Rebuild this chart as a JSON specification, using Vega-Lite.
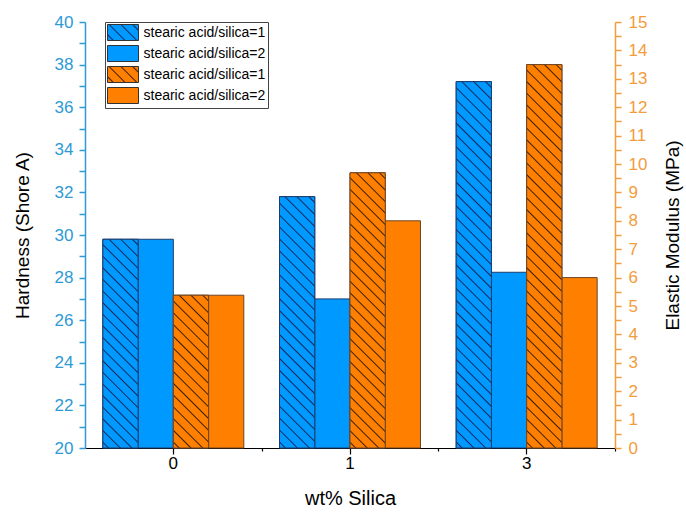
{
  "$schema": "https://vega.github.io/schema/vega-lite/v6.json",
  "width": 530,
  "height": 426,
  "autosize": {"type": "none"},
  "padding": {"left": 85, "top": 22, "right": 71, "bottom": 65},
  "background": "#ffffff",
  "config": {
    "view": {"stroke": null},
    "font": "Liberation Sans",
    "axis": {"labelFont": "Liberation Sans", "titleFont": "Liberation Sans", "grid": false}
  },
  "data": {
    "values": [
      {"silica": "0", "series": "H1", "q": "H", "value": 29.8},
      {"silica": "1", "series": "H1", "q": "H", "value": 31.8},
      {"silica": "3", "series": "H1", "q": "H", "value": 37.2},
      {"silica": "0", "series": "H2", "q": "H", "value": 29.8},
      {"silica": "1", "series": "H2", "q": "H", "value": 27.0},
      {"silica": "3", "series": "H2", "q": "H", "value": 28.25},
      {"silica": "0", "series": "M1", "q": "M", "value": 5.38},
      {"silica": "1", "series": "M1", "q": "M", "value": 9.69},
      {"silica": "3", "series": "M1", "q": "M", "value": 13.5},
      {"silica": "0", "series": "M2", "q": "M", "value": 5.38},
      {"silica": "1", "series": "M2", "q": "M", "value": 8.0},
      {"silica": "3", "series": "M2", "q": "M", "value": 6.0}
    ]
  },
  "layer": [
    {
      "transform": [{"filter": "datum.q === 'H'"}],
      "encoding": {
        "x": {
          "field": "silica", "type": "nominal",
          "scale": {"domain": ["0", "1", "3"], "paddingInner": 0.202, "paddingOuter": 0.101},
          "axis": {
            "orient": "bottom", "title": "wt% Silica", "labelAngle": 0,
            "domainColor": "#000000", "domainWidth": 1.2, "tickColor": "#000000", "tickWidth": 1.2, "tickSize": 6,
            "labelColor": "#000000", "labelFontSize": 17, "labelPadding": 1,
            "titleFontSize": 20, "titleFontWeight": "normal", "titleColor": "#000000", "titlePadding": 17
          }
        },
        "xOffset": {"field": "series", "type": "nominal", "scale": {"domain": ["H1", "H2", "M1", "M2"]}},
        "y": {
          "field": "value", "type": "quantitative",
          "scale": {"domain": [20, 40], "zero": false},
          "axis": {
            "orient": "left", "title": "Hardness (Shore A)",
            "values": [20, 21, 22, 23, 24, 25, 26, 27, 28, 29, 30, 31, 32, 33, 34, 35, 36, 37, 38, 39, 40],
            "labelExpr": "datum.value % 2 === 0 ? datum.label : ''",
            "labelOverlap": false,
            "domainColor": "#2e9ad6", "domainWidth": 1.5,
            "tickColor": "#2e9ad6", "tickWidth": 1.5, "tickSize": 6,
            "labelColor": "#2e9ad6", "labelFontSize": 17, "labelPadding": 6,
            "titleColor": "#000000", "titleFontSize": 19, "titleFontWeight": "normal", "titlePadding": 22,
            "encode": {"ticks": {"x2": {"condition": {"test": "datum.value % 2 !== 0", "value": -3}, "value": -6}}}
          }
        },
        "y2": {"datum": 20}
      },
      "layer": [
        {
          "mark": {"type": "bar", "stroke": "#1e3c6e", "strokeWidth": 1},
          "encoding": {
            "color": {
              "field": "series", "type": "nominal",
              "scale": {
                "domain": ["H1", "H2", "M1", "M2"],
                "range": [
                  {"expr": "{gradient: 'linear', x1: 0, y1: 1, x2: 1.1972, y2: 0.3821, stops: [{offset: 0.095, color: '#0099ff'}, {offset: 0.125, color: '#14275a'}, {offset: 0.155, color: '#0099ff'}, {offset: 0.345, color: '#0099ff'}, {offset: 0.375, color: '#14275a'}, {offset: 0.405, color: '#0099ff'}, {offset: 0.595, color: '#0099ff'}, {offset: 0.625, color: '#14275a'}, {offset: 0.655, color: '#0099ff'}, {offset: 0.845, color: '#0099ff'}, {offset: 0.875, color: '#14275a'}, {offset: 0.905, color: '#0099ff'}]}"},
                  "#0099ff",
                  {"expr": "{gradient: 'linear', x1: 0, y1: 1, x2: 1.1972, y2: 0.3821, stops: [{offset: 0.095, color: '#ff8000'}, {offset: 0.125, color: '#3a1e05'}, {offset: 0.155, color: '#ff8000'}, {offset: 0.345, color: '#ff8000'}, {offset: 0.375, color: '#3a1e05'}, {offset: 0.405, color: '#ff8000'}, {offset: 0.595, color: '#ff8000'}, {offset: 0.625, color: '#3a1e05'}, {offset: 0.655, color: '#ff8000'}, {offset: 0.845, color: '#ff8000'}, {offset: 0.875, color: '#3a1e05'}, {offset: 0.905, color: '#ff8000'}]}"},
                  "#ff8000"
                ]
              },
              "legend": {
                "title": null, "orient": "none", "legendX": 20, "legendY": 0, "direction": "vertical",
                "labelExpr": "datum.value === 'H1' || datum.value === 'M1' ? 'stearic acid/silica=1' : 'stearic acid/silica=2'",
                "symbolType": "M-1,-1H2.875V1H-1Z", "symbolSize": 256, "symbolStrokeWidth": 1, "symbolStrokeColor": "#333333",
                "labelFontSize": 14, "labelFont": "Liberation Sans", "labelColor": "#000000", "labelOffset": 19.5,
                "strokeColor": "#444444", "fillColor": "#ffffff", "padding": 2, "rowPadding": 0
              }
            }
          }
        },
        {
          "transform": [{"filter": "datum.series === 'H1' && datum.silica === '0'"}],
          "mark": {"type": "bar", "stroke": "#1e3c6e", "strokeWidth": 1, "fill": {"gradient": "linear", "x1": 0, "y1": 1, "x2": 0.1919, "y2": -0.1365, "stops": [
            {"offset": 0.0181, "color": "#0099ff"}, {"offset": 0.0238, "color": "#14275a"}, {"offset": 0.0295, "color": "#0099ff"},
            {"offset": 0.0657, "color": "#0099ff"}, {"offset": 0.0714, "color": "#14275a"}, {"offset": 0.0771, "color": "#0099ff"},
            {"offset": 0.1133, "color": "#0099ff"}, {"offset": 0.1190, "color": "#14275a"}, {"offset": 0.1247, "color": "#0099ff"},
            {"offset": 0.1610, "color": "#0099ff"}, {"offset": 0.1667, "color": "#14275a"}, {"offset": 0.1724, "color": "#0099ff"},
            {"offset": 0.2086, "color": "#0099ff"}, {"offset": 0.2143, "color": "#14275a"}, {"offset": 0.2200, "color": "#0099ff"},
            {"offset": 0.2562, "color": "#0099ff"}, {"offset": 0.2619, "color": "#14275a"}, {"offset": 0.2676, "color": "#0099ff"},
            {"offset": 0.3038, "color": "#0099ff"}, {"offset": 0.3095, "color": "#14275a"}, {"offset": 0.3152, "color": "#0099ff"},
            {"offset": 0.3514, "color": "#0099ff"}, {"offset": 0.3571, "color": "#14275a"}, {"offset": 0.3628, "color": "#0099ff"},
            {"offset": 0.3991, "color": "#0099ff"}, {"offset": 0.4048, "color": "#14275a"}, {"offset": 0.4105, "color": "#0099ff"},
            {"offset": 0.4467, "color": "#0099ff"}, {"offset": 0.4524, "color": "#14275a"}, {"offset": 0.4581, "color": "#0099ff"},
            {"offset": 0.4943, "color": "#0099ff"}, {"offset": 0.5000, "color": "#14275a"}, {"offset": 0.5057, "color": "#0099ff"},
            {"offset": 0.5419, "color": "#0099ff"}, {"offset": 0.5476, "color": "#14275a"}, {"offset": 0.5533, "color": "#0099ff"},
            {"offset": 0.5895, "color": "#0099ff"}, {"offset": 0.5952, "color": "#14275a"}, {"offset": 0.6009, "color": "#0099ff"},
            {"offset": 0.6372, "color": "#0099ff"}, {"offset": 0.6429, "color": "#14275a"}, {"offset": 0.6486, "color": "#0099ff"},
            {"offset": 0.6848, "color": "#0099ff"}, {"offset": 0.6905, "color": "#14275a"}, {"offset": 0.6962, "color": "#0099ff"},
            {"offset": 0.7324, "color": "#0099ff"}, {"offset": 0.7381, "color": "#14275a"}, {"offset": 0.7438, "color": "#0099ff"},
            {"offset": 0.7800, "color": "#0099ff"}, {"offset": 0.7857, "color": "#14275a"}, {"offset": 0.7914, "color": "#0099ff"},
            {"offset": 0.8276, "color": "#0099ff"}, {"offset": 0.8333, "color": "#14275a"}, {"offset": 0.8390, "color": "#0099ff"},
            {"offset": 0.8753, "color": "#0099ff"}, {"offset": 0.8810, "color": "#14275a"}, {"offset": 0.8867, "color": "#0099ff"},
            {"offset": 0.9229, "color": "#0099ff"}, {"offset": 0.9286, "color": "#14275a"}, {"offset": 0.9343, "color": "#0099ff"},
            {"offset": 0.9705, "color": "#0099ff"}, {"offset": 0.9762, "color": "#14275a"}, {"offset": 0.9819, "color": "#0099ff"}]}}
        },
        {
          "transform": [{"filter": "datum.series === 'H1' && datum.silica === '1'"}],
          "mark": {"type": "bar", "stroke": "#1e3c6e", "strokeWidth": 1, "fill": {"gradient": "linear", "x1": 0, "y1": 1, "x2": 0.1568, "y2": -0.1183, "stops": [
            {"offset": 0.0159, "color": "#0099ff"}, {"offset": 0.0208, "color": "#14275a"}, {"offset": 0.0257, "color": "#0099ff"},
            {"offset": 0.0576, "color": "#0099ff"}, {"offset": 0.0625, "color": "#14275a"}, {"offset": 0.0674, "color": "#0099ff"},
            {"offset": 0.0993, "color": "#0099ff"}, {"offset": 0.1042, "color": "#14275a"}, {"offset": 0.1091, "color": "#0099ff"},
            {"offset": 0.1409, "color": "#0099ff"}, {"offset": 0.1458, "color": "#14275a"}, {"offset": 0.1507, "color": "#0099ff"},
            {"offset": 0.1826, "color": "#0099ff"}, {"offset": 0.1875, "color": "#14275a"}, {"offset": 0.1924, "color": "#0099ff"},
            {"offset": 0.2243, "color": "#0099ff"}, {"offset": 0.2292, "color": "#14275a"}, {"offset": 0.2341, "color": "#0099ff"},
            {"offset": 0.2659, "color": "#0099ff"}, {"offset": 0.2708, "color": "#14275a"}, {"offset": 0.2757, "color": "#0099ff"},
            {"offset": 0.3076, "color": "#0099ff"}, {"offset": 0.3125, "color": "#14275a"}, {"offset": 0.3174, "color": "#0099ff"},
            {"offset": 0.3493, "color": "#0099ff"}, {"offset": 0.3542, "color": "#14275a"}, {"offset": 0.3591, "color": "#0099ff"},
            {"offset": 0.3909, "color": "#0099ff"}, {"offset": 0.3958, "color": "#14275a"}, {"offset": 0.4007, "color": "#0099ff"},
            {"offset": 0.4326, "color": "#0099ff"}, {"offset": 0.4375, "color": "#14275a"}, {"offset": 0.4424, "color": "#0099ff"},
            {"offset": 0.4743, "color": "#0099ff"}, {"offset": 0.4792, "color": "#14275a"}, {"offset": 0.4841, "color": "#0099ff"},
            {"offset": 0.5159, "color": "#0099ff"}, {"offset": 0.5208, "color": "#14275a"}, {"offset": 0.5257, "color": "#0099ff"},
            {"offset": 0.5576, "color": "#0099ff"}, {"offset": 0.5625, "color": "#14275a"}, {"offset": 0.5674, "color": "#0099ff"},
            {"offset": 0.5993, "color": "#0099ff"}, {"offset": 0.6042, "color": "#14275a"}, {"offset": 0.6091, "color": "#0099ff"},
            {"offset": 0.6409, "color": "#0099ff"}, {"offset": 0.6458, "color": "#14275a"}, {"offset": 0.6507, "color": "#0099ff"},
            {"offset": 0.6826, "color": "#0099ff"}, {"offset": 0.6875, "color": "#14275a"}, {"offset": 0.6924, "color": "#0099ff"},
            {"offset": 0.7243, "color": "#0099ff"}, {"offset": 0.7292, "color": "#14275a"}, {"offset": 0.7341, "color": "#0099ff"},
            {"offset": 0.7659, "color": "#0099ff"}, {"offset": 0.7708, "color": "#14275a"}, {"offset": 0.7757, "color": "#0099ff"},
            {"offset": 0.8076, "color": "#0099ff"}, {"offset": 0.8125, "color": "#14275a"}, {"offset": 0.8174, "color": "#0099ff"},
            {"offset": 0.8493, "color": "#0099ff"}, {"offset": 0.8542, "color": "#14275a"}, {"offset": 0.8591, "color": "#0099ff"},
            {"offset": 0.8909, "color": "#0099ff"}, {"offset": 0.8958, "color": "#14275a"}, {"offset": 0.9007, "color": "#0099ff"},
            {"offset": 0.9326, "color": "#0099ff"}, {"offset": 0.9375, "color": "#14275a"}, {"offset": 0.9424, "color": "#0099ff"},
            {"offset": 0.9743, "color": "#0099ff"}, {"offset": 0.9792, "color": "#14275a"}, {"offset": 0.9841, "color": "#0099ff"}]}}
        },
        {
          "transform": [{"filter": "datum.series === 'H1' && datum.silica === '3'"}],
          "mark": {"type": "bar", "stroke": "#1e3c6e", "strokeWidth": 1, "fill": {"gradient": "linear", "x1": 0, "y1": 1, "x2": 0.1045, "y2": -0.0862, "stops": [
            {"offset": 0.0112, "color": "#0099ff"}, {"offset": 0.0147, "color": "#14275a"}, {"offset": 0.0182, "color": "#0099ff"},
            {"offset": 0.0406, "color": "#0099ff"}, {"offset": 0.0441, "color": "#14275a"}, {"offset": 0.0476, "color": "#0099ff"},
            {"offset": 0.0700, "color": "#0099ff"}, {"offset": 0.0735, "color": "#14275a"}, {"offset": 0.0770, "color": "#0099ff"},
            {"offset": 0.0994, "color": "#0099ff"}, {"offset": 0.1029, "color": "#14275a"}, {"offset": 0.1064, "color": "#0099ff"},
            {"offset": 0.1289, "color": "#0099ff"}, {"offset": 0.1324, "color": "#14275a"}, {"offset": 0.1359, "color": "#0099ff"},
            {"offset": 0.1583, "color": "#0099ff"}, {"offset": 0.1618, "color": "#14275a"}, {"offset": 0.1653, "color": "#0099ff"},
            {"offset": 0.1877, "color": "#0099ff"}, {"offset": 0.1912, "color": "#14275a"}, {"offset": 0.1947, "color": "#0099ff"},
            {"offset": 0.2171, "color": "#0099ff"}, {"offset": 0.2206, "color": "#14275a"}, {"offset": 0.2241, "color": "#0099ff"},
            {"offset": 0.2465, "color": "#0099ff"}, {"offset": 0.2500, "color": "#14275a"}, {"offset": 0.2535, "color": "#0099ff"},
            {"offset": 0.2759, "color": "#0099ff"}, {"offset": 0.2794, "color": "#14275a"}, {"offset": 0.2829, "color": "#0099ff"},
            {"offset": 0.3053, "color": "#0099ff"}, {"offset": 0.3088, "color": "#14275a"}, {"offset": 0.3123, "color": "#0099ff"},
            {"offset": 0.3347, "color": "#0099ff"}, {"offset": 0.3382, "color": "#14275a"}, {"offset": 0.3417, "color": "#0099ff"},
            {"offset": 0.3641, "color": "#0099ff"}, {"offset": 0.3676, "color": "#14275a"}, {"offset": 0.3711, "color": "#0099ff"},
            {"offset": 0.3936, "color": "#0099ff"}, {"offset": 0.3971, "color": "#14275a"}, {"offset": 0.4006, "color": "#0099ff"},
            {"offset": 0.4230, "color": "#0099ff"}, {"offset": 0.4265, "color": "#14275a"}, {"offset": 0.4300, "color": "#0099ff"},
            {"offset": 0.4524, "color": "#0099ff"}, {"offset": 0.4559, "color": "#14275a"}, {"offset": 0.4594, "color": "#0099ff"},
            {"offset": 0.4818, "color": "#0099ff"}, {"offset": 0.4853, "color": "#14275a"}, {"offset": 0.4888, "color": "#0099ff"},
            {"offset": 0.5112, "color": "#0099ff"}, {"offset": 0.5147, "color": "#14275a"}, {"offset": 0.5182, "color": "#0099ff"},
            {"offset": 0.5406, "color": "#0099ff"}, {"offset": 0.5441, "color": "#14275a"}, {"offset": 0.5476, "color": "#0099ff"},
            {"offset": 0.5700, "color": "#0099ff"}, {"offset": 0.5735, "color": "#14275a"}, {"offset": 0.5770, "color": "#0099ff"},
            {"offset": 0.5994, "color": "#0099ff"}, {"offset": 0.6029, "color": "#14275a"}, {"offset": 0.6064, "color": "#0099ff"},
            {"offset": 0.6289, "color": "#0099ff"}, {"offset": 0.6324, "color": "#14275a"}, {"offset": 0.6359, "color": "#0099ff"},
            {"offset": 0.6583, "color": "#0099ff"}, {"offset": 0.6618, "color": "#14275a"}, {"offset": 0.6653, "color": "#0099ff"},
            {"offset": 0.6877, "color": "#0099ff"}, {"offset": 0.6912, "color": "#14275a"}, {"offset": 0.6947, "color": "#0099ff"},
            {"offset": 0.7171, "color": "#0099ff"}, {"offset": 0.7206, "color": "#14275a"}, {"offset": 0.7241, "color": "#0099ff"},
            {"offset": 0.7465, "color": "#0099ff"}, {"offset": 0.7500, "color": "#14275a"}, {"offset": 0.7535, "color": "#0099ff"},
            {"offset": 0.7759, "color": "#0099ff"}, {"offset": 0.7794, "color": "#14275a"}, {"offset": 0.7829, "color": "#0099ff"},
            {"offset": 0.8053, "color": "#0099ff"}, {"offset": 0.8088, "color": "#14275a"}, {"offset": 0.8123, "color": "#0099ff"},
            {"offset": 0.8347, "color": "#0099ff"}, {"offset": 0.8382, "color": "#14275a"}, {"offset": 0.8417, "color": "#0099ff"},
            {"offset": 0.8641, "color": "#0099ff"}, {"offset": 0.8676, "color": "#14275a"}, {"offset": 0.8711, "color": "#0099ff"},
            {"offset": 0.8936, "color": "#0099ff"}, {"offset": 0.8971, "color": "#14275a"}, {"offset": 0.9006, "color": "#0099ff"},
            {"offset": 0.9230, "color": "#0099ff"}, {"offset": 0.9265, "color": "#14275a"}, {"offset": 0.9300, "color": "#0099ff"},
            {"offset": 0.9524, "color": "#0099ff"}, {"offset": 0.9559, "color": "#14275a"}, {"offset": 0.9594, "color": "#0099ff"},
            {"offset": 0.9818, "color": "#0099ff"}, {"offset": 0.9853, "color": "#14275a"}, {"offset": 0.9888, "color": "#0099ff"}]}}
        }
      ]
    },
    {
      "transform": [{"filter": "datum.q === 'M'"}],
      "encoding": {
        "x": {
          "field": "silica", "type": "nominal",
          "scale": {"domain": ["0", "1", "3"], "paddingInner": 0.202, "paddingOuter": 0.101},
          "axis": {"orient": "bottom", "title": null, "labels": false, "domain": false, "tickOffset": 88.33, "tickSize": 3, "tickColor": "#000000", "tickWidth": 1.2}
        },
        "xOffset": {"field": "series", "type": "nominal", "scale": {"domain": ["H1", "H2", "M1", "M2"]}},
        "y": {
          "field": "value", "type": "quantitative",
          "scale": {"domain": [0, 15]},
          "axis": {
            "orient": "right", "title": "Elastic Modulus (MPa)",
            "values": [0, 0.5, 1, 1.5, 2, 2.5, 3, 3.5, 4, 4.5, 5, 5.5, 6, 6.5, 7, 7.5, 8, 8.5, 9, 9.5, 10, 10.5, 11, 11.5, 12, 12.5, 13, 13.5, 14, 14.5, 15],
            "labelExpr": "datum.value % 1 === 0 ? format(datum.value, 'd') : ''",
            "labelOverlap": false,
            "domainColor": "#f39c3c", "domainWidth": 1.5,
            "tickColor": "#f39c3c", "tickWidth": 1.5, "tickSize": 6,
            "labelColor": "#f39c3c", "labelFontSize": 17, "labelPadding": 7,
            "titleColor": "#000000", "titleFontSize": 19, "titleFontWeight": "normal", "titlePadding": 17,
            "titleAngle": 270, "titleBaseline": "top",
            "encode": {"ticks": {"x2": {"condition": {"test": "datum.value % 1 !== 0", "value": 3}, "value": 6}}}
          }
        }
      },
      "layer": [
        {
          "mark": {"type": "bar", "fill": "#ff8000", "stroke": "#6e4424", "strokeWidth": 1}
        },
        {
          "transform": [{"filter": "datum.series === 'M1' && datum.silica === '0'"}],
          "mark": {"type": "bar", "stroke": "#6e4424", "strokeWidth": 1, "fill": {"gradient": "linear", "x1": 0, "y1": 1, "x2": 0.2696, "y2": -0.1685, "stops": [
            {"offset": 0.0239, "color": "#ff8000"}, {"offset": 0.0313, "color": "#3a1e05"}, {"offset": 0.0387, "color": "#ff8000"},
            {"offset": 0.0864, "color": "#ff8000"}, {"offset": 0.0938, "color": "#3a1e05"}, {"offset": 0.1012, "color": "#ff8000"},
            {"offset": 0.1489, "color": "#ff8000"}, {"offset": 0.1563, "color": "#3a1e05"}, {"offset": 0.1637, "color": "#ff8000"},
            {"offset": 0.2114, "color": "#ff8000"}, {"offset": 0.2188, "color": "#3a1e05"}, {"offset": 0.2262, "color": "#ff8000"},
            {"offset": 0.2739, "color": "#ff8000"}, {"offset": 0.2813, "color": "#3a1e05"}, {"offset": 0.2887, "color": "#ff8000"},
            {"offset": 0.3364, "color": "#ff8000"}, {"offset": 0.3438, "color": "#3a1e05"}, {"offset": 0.3512, "color": "#ff8000"},
            {"offset": 0.3989, "color": "#ff8000"}, {"offset": 0.4063, "color": "#3a1e05"}, {"offset": 0.4137, "color": "#ff8000"},
            {"offset": 0.4614, "color": "#ff8000"}, {"offset": 0.4688, "color": "#3a1e05"}, {"offset": 0.4762, "color": "#ff8000"},
            {"offset": 0.5239, "color": "#ff8000"}, {"offset": 0.5313, "color": "#3a1e05"}, {"offset": 0.5387, "color": "#ff8000"},
            {"offset": 0.5864, "color": "#ff8000"}, {"offset": 0.5938, "color": "#3a1e05"}, {"offset": 0.6012, "color": "#ff8000"},
            {"offset": 0.6489, "color": "#ff8000"}, {"offset": 0.6563, "color": "#3a1e05"}, {"offset": 0.6637, "color": "#ff8000"},
            {"offset": 0.7114, "color": "#ff8000"}, {"offset": 0.7188, "color": "#3a1e05"}, {"offset": 0.7262, "color": "#ff8000"},
            {"offset": 0.7739, "color": "#ff8000"}, {"offset": 0.7813, "color": "#3a1e05"}, {"offset": 0.7887, "color": "#ff8000"},
            {"offset": 0.8364, "color": "#ff8000"}, {"offset": 0.8438, "color": "#3a1e05"}, {"offset": 0.8512, "color": "#ff8000"},
            {"offset": 0.8989, "color": "#ff8000"}, {"offset": 0.9063, "color": "#3a1e05"}, {"offset": 0.9137, "color": "#ff8000"},
            {"offset": 0.9614, "color": "#ff8000"}, {"offset": 0.9688, "color": "#3a1e05"}, {"offset": 0.9762, "color": "#ff8000"}]}}
        },
        {
          "transform": [{"filter": "datum.series === 'M1' && datum.silica === '1'"}],
          "mark": {"type": "bar", "stroke": "#6e4424", "strokeWidth": 1, "fill": {"gradient": "linear", "x1": 0, "y1": 1, "x2": 0.1422, "y2": -0.1099, "stops": [
            {"offset": 0.0140, "color": "#ff8000"}, {"offset": 0.0185, "color": "#3a1e05"}, {"offset": 0.0230, "color": "#ff8000"},
            {"offset": 0.0511, "color": "#ff8000"}, {"offset": 0.0556, "color": "#3a1e05"}, {"offset": 0.0601, "color": "#ff8000"},
            {"offset": 0.0881, "color": "#ff8000"}, {"offset": 0.0926, "color": "#3a1e05"}, {"offset": 0.0971, "color": "#ff8000"},
            {"offset": 0.1251, "color": "#ff8000"}, {"offset": 0.1296, "color": "#3a1e05"}, {"offset": 0.1341, "color": "#ff8000"},
            {"offset": 0.1622, "color": "#ff8000"}, {"offset": 0.1667, "color": "#3a1e05"}, {"offset": 0.1712, "color": "#ff8000"},
            {"offset": 0.1992, "color": "#ff8000"}, {"offset": 0.2037, "color": "#3a1e05"}, {"offset": 0.2082, "color": "#ff8000"},
            {"offset": 0.2362, "color": "#ff8000"}, {"offset": 0.2407, "color": "#3a1e05"}, {"offset": 0.2452, "color": "#ff8000"},
            {"offset": 0.2733, "color": "#ff8000"}, {"offset": 0.2778, "color": "#3a1e05"}, {"offset": 0.2823, "color": "#ff8000"},
            {"offset": 0.3103, "color": "#ff8000"}, {"offset": 0.3148, "color": "#3a1e05"}, {"offset": 0.3193, "color": "#ff8000"},
            {"offset": 0.3474, "color": "#ff8000"}, {"offset": 0.3519, "color": "#3a1e05"}, {"offset": 0.3564, "color": "#ff8000"},
            {"offset": 0.3844, "color": "#ff8000"}, {"offset": 0.3889, "color": "#3a1e05"}, {"offset": 0.3934, "color": "#ff8000"},
            {"offset": 0.4214, "color": "#ff8000"}, {"offset": 0.4259, "color": "#3a1e05"}, {"offset": 0.4304, "color": "#ff8000"},
            {"offset": 0.4585, "color": "#ff8000"}, {"offset": 0.4630, "color": "#3a1e05"}, {"offset": 0.4675, "color": "#ff8000"},
            {"offset": 0.4955, "color": "#ff8000"}, {"offset": 0.5000, "color": "#3a1e05"}, {"offset": 0.5045, "color": "#ff8000"},
            {"offset": 0.5325, "color": "#ff8000"}, {"offset": 0.5370, "color": "#3a1e05"}, {"offset": 0.5415, "color": "#ff8000"},
            {"offset": 0.5696, "color": "#ff8000"}, {"offset": 0.5741, "color": "#3a1e05"}, {"offset": 0.5786, "color": "#ff8000"},
            {"offset": 0.6066, "color": "#ff8000"}, {"offset": 0.6111, "color": "#3a1e05"}, {"offset": 0.6156, "color": "#ff8000"},
            {"offset": 0.6436, "color": "#ff8000"}, {"offset": 0.6481, "color": "#3a1e05"}, {"offset": 0.6526, "color": "#ff8000"},
            {"offset": 0.6807, "color": "#ff8000"}, {"offset": 0.6852, "color": "#3a1e05"}, {"offset": 0.6897, "color": "#ff8000"},
            {"offset": 0.7177, "color": "#ff8000"}, {"offset": 0.7222, "color": "#3a1e05"}, {"offset": 0.7267, "color": "#ff8000"},
            {"offset": 0.7548, "color": "#ff8000"}, {"offset": 0.7593, "color": "#3a1e05"}, {"offset": 0.7638, "color": "#ff8000"},
            {"offset": 0.7918, "color": "#ff8000"}, {"offset": 0.7963, "color": "#3a1e05"}, {"offset": 0.8008, "color": "#ff8000"},
            {"offset": 0.8288, "color": "#ff8000"}, {"offset": 0.8333, "color": "#3a1e05"}, {"offset": 0.8378, "color": "#ff8000"},
            {"offset": 0.8659, "color": "#ff8000"}, {"offset": 0.8704, "color": "#3a1e05"}, {"offset": 0.8749, "color": "#ff8000"},
            {"offset": 0.9029, "color": "#ff8000"}, {"offset": 0.9074, "color": "#3a1e05"}, {"offset": 0.9119, "color": "#ff8000"},
            {"offset": 0.9399, "color": "#ff8000"}, {"offset": 0.9444, "color": "#3a1e05"}, {"offset": 0.9489, "color": "#ff8000"},
            {"offset": 0.9770, "color": "#ff8000"}, {"offset": 0.9815, "color": "#3a1e05"}, {"offset": 0.9860, "color": "#ff8000"}]}}
        },
        {
          "transform": [{"filter": "datum.series === 'M1' && datum.silica === '3'"}],
          "mark": {"type": "bar", "stroke": "#6e4424", "strokeWidth": 1, "fill": {"gradient": "linear", "x1": 0, "y1": 1, "x2": 0.0996, "y2": -0.0828, "stops": [
            {"offset": 0.0106, "color": "#ff8000"}, {"offset": 0.0139, "color": "#3a1e05"}, {"offset": 0.0172, "color": "#ff8000"},
            {"offset": 0.0384, "color": "#ff8000"}, {"offset": 0.0417, "color": "#3a1e05"}, {"offset": 0.0450, "color": "#ff8000"},
            {"offset": 0.0661, "color": "#ff8000"}, {"offset": 0.0694, "color": "#3a1e05"}, {"offset": 0.0727, "color": "#ff8000"},
            {"offset": 0.0939, "color": "#ff8000"}, {"offset": 0.0972, "color": "#3a1e05"}, {"offset": 0.1005, "color": "#ff8000"},
            {"offset": 0.1217, "color": "#ff8000"}, {"offset": 0.1250, "color": "#3a1e05"}, {"offset": 0.1283, "color": "#ff8000"},
            {"offset": 0.1495, "color": "#ff8000"}, {"offset": 0.1528, "color": "#3a1e05"}, {"offset": 0.1561, "color": "#ff8000"},
            {"offset": 0.1773, "color": "#ff8000"}, {"offset": 0.1806, "color": "#3a1e05"}, {"offset": 0.1839, "color": "#ff8000"},
            {"offset": 0.2050, "color": "#ff8000"}, {"offset": 0.2083, "color": "#3a1e05"}, {"offset": 0.2116, "color": "#ff8000"},
            {"offset": 0.2328, "color": "#ff8000"}, {"offset": 0.2361, "color": "#3a1e05"}, {"offset": 0.2394, "color": "#ff8000"},
            {"offset": 0.2606, "color": "#ff8000"}, {"offset": 0.2639, "color": "#3a1e05"}, {"offset": 0.2672, "color": "#ff8000"},
            {"offset": 0.2884, "color": "#ff8000"}, {"offset": 0.2917, "color": "#3a1e05"}, {"offset": 0.2950, "color": "#ff8000"},
            {"offset": 0.3161, "color": "#ff8000"}, {"offset": 0.3194, "color": "#3a1e05"}, {"offset": 0.3227, "color": "#ff8000"},
            {"offset": 0.3439, "color": "#ff8000"}, {"offset": 0.3472, "color": "#3a1e05"}, {"offset": 0.3505, "color": "#ff8000"},
            {"offset": 0.3717, "color": "#ff8000"}, {"offset": 0.3750, "color": "#3a1e05"}, {"offset": 0.3783, "color": "#ff8000"},
            {"offset": 0.3995, "color": "#ff8000"}, {"offset": 0.4028, "color": "#3a1e05"}, {"offset": 0.4061, "color": "#ff8000"},
            {"offset": 0.4273, "color": "#ff8000"}, {"offset": 0.4306, "color": "#3a1e05"}, {"offset": 0.4339, "color": "#ff8000"},
            {"offset": 0.4550, "color": "#ff8000"}, {"offset": 0.4583, "color": "#3a1e05"}, {"offset": 0.4616, "color": "#ff8000"},
            {"offset": 0.4828, "color": "#ff8000"}, {"offset": 0.4861, "color": "#3a1e05"}, {"offset": 0.4894, "color": "#ff8000"},
            {"offset": 0.5106, "color": "#ff8000"}, {"offset": 0.5139, "color": "#3a1e05"}, {"offset": 0.5172, "color": "#ff8000"},
            {"offset": 0.5384, "color": "#ff8000"}, {"offset": 0.5417, "color": "#3a1e05"}, {"offset": 0.5450, "color": "#ff8000"},
            {"offset": 0.5661, "color": "#ff8000"}, {"offset": 0.5694, "color": "#3a1e05"}, {"offset": 0.5727, "color": "#ff8000"},
            {"offset": 0.5939, "color": "#ff8000"}, {"offset": 0.5972, "color": "#3a1e05"}, {"offset": 0.6005, "color": "#ff8000"},
            {"offset": 0.6217, "color": "#ff8000"}, {"offset": 0.6250, "color": "#3a1e05"}, {"offset": 0.6283, "color": "#ff8000"},
            {"offset": 0.6495, "color": "#ff8000"}, {"offset": 0.6528, "color": "#3a1e05"}, {"offset": 0.6561, "color": "#ff8000"},
            {"offset": 0.6773, "color": "#ff8000"}, {"offset": 0.6806, "color": "#3a1e05"}, {"offset": 0.6839, "color": "#ff8000"},
            {"offset": 0.7050, "color": "#ff8000"}, {"offset": 0.7083, "color": "#3a1e05"}, {"offset": 0.7116, "color": "#ff8000"},
            {"offset": 0.7328, "color": "#ff8000"}, {"offset": 0.7361, "color": "#3a1e05"}, {"offset": 0.7394, "color": "#ff8000"},
            {"offset": 0.7606, "color": "#ff8000"}, {"offset": 0.7639, "color": "#3a1e05"}, {"offset": 0.7672, "color": "#ff8000"},
            {"offset": 0.7884, "color": "#ff8000"}, {"offset": 0.7917, "color": "#3a1e05"}, {"offset": 0.7950, "color": "#ff8000"},
            {"offset": 0.8161, "color": "#ff8000"}, {"offset": 0.8194, "color": "#3a1e05"}, {"offset": 0.8227, "color": "#ff8000"},
            {"offset": 0.8439, "color": "#ff8000"}, {"offset": 0.8472, "color": "#3a1e05"}, {"offset": 0.8505, "color": "#ff8000"},
            {"offset": 0.8717, "color": "#ff8000"}, {"offset": 0.8750, "color": "#3a1e05"}, {"offset": 0.8783, "color": "#ff8000"},
            {"offset": 0.8995, "color": "#ff8000"}, {"offset": 0.9028, "color": "#3a1e05"}, {"offset": 0.9061, "color": "#ff8000"},
            {"offset": 0.9273, "color": "#ff8000"}, {"offset": 0.9306, "color": "#3a1e05"}, {"offset": 0.9339, "color": "#ff8000"},
            {"offset": 0.9550, "color": "#ff8000"}, {"offset": 0.9583, "color": "#3a1e05"}, {"offset": 0.9616, "color": "#ff8000"},
            {"offset": 0.9828, "color": "#ff8000"}, {"offset": 0.9861, "color": "#3a1e05"}, {"offset": 0.9894, "color": "#ff8000"}]}}
        }
      ]
    }
  ],
  "resolve": {"scale": {"y": "independent"}, "axis": {"x": "independent"}}
}
